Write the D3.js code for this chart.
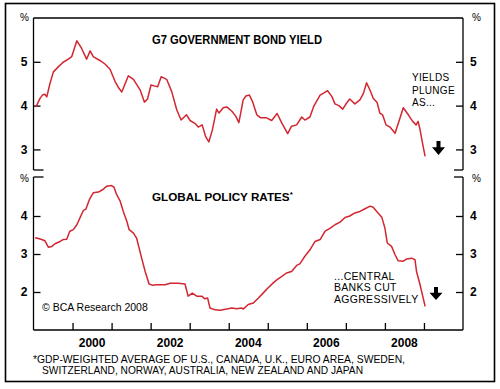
<!DOCTYPE html>
<html>
<head>
<meta charset="utf-8">
<script src="https://cdn.jsdelivr.net/npm/d3@7"></script>
<style>
  body { margin: 0; background: #fff; }
  svg { display: block; font-family: 'Liberation Sans', Arial, sans-serif; }
</style>
</head>
<body>
<svg id="chart" width="500" height="389"></svg>
<script>
/**
 * @fileoverview Draws the G7 bond yield / global policy rate panels.
 */

// Decimal years and values.
var bondYears = [
  1999.04, 1999.08, 1999.17, 1999.24, 1999.29, 1999.34, 1999.42, 1999.51,
  1999.64, 1999.76, 1999.89, 1999.98, 2000.11, 2000.23, 2000.36, 2000.45,
  2000.53, 2000.70, 2000.83, 2000.96, 2001.09, 2001.17, 2001.26, 2001.43,
  2001.56, 2001.73, 2001.84, 2001.92, 2002.01, 2002.09, 2002.18, 2002.27,
  2002.41, 2002.54, 2002.67, 2002.78, 2002.92, 2003.01, 2003.14, 2003.22,
  2003.32, 2003.41, 2003.49, 2003.58, 2003.69, 2003.75, 2003.86, 2003.95,
  2004.08, 2004.18, 2004.26, 2004.37, 2004.44, 2004.53, 2004.61, 2004.72,
  2004.82, 2004.97, 2005.10, 2005.24, 2005.36, 2005.51, 2005.61, 2005.74,
  2005.87, 2005.95, 2006.08, 2006.18, 2006.34, 2006.44, 2006.53, 2006.64,
  2006.72, 2006.82, 2006.92, 2007.02, 2007.10, 2007.23, 2007.36, 2007.45,
  2007.53, 2007.62, 2007.70, 2007.80, 2007.87, 2007.94, 2008.03, 2008.13,
  2008.26, 2008.37, 2008.47, 2008.60, 2008.71, 2008.80, 2008.85, 2008.90,
  2008.97, 2009.03
];
var bondYield = [
  3.98, 4.00, 4.17, 4.25, 4.26, 4.20, 4.50, 4.77,
  4.89, 4.99, 5.06, 5.12, 5.48, 5.31, 5.06, 5.25,
  5.12, 5.03, 4.95, 4.83, 4.55, 4.42, 4.31, 4.68,
  4.60, 4.36, 4.08, 4.15, 4.47, 4.45, 4.43, 4.66,
  4.60, 4.32, 3.90, 3.67, 3.79, 3.66, 3.59, 3.51,
  3.56, 3.29, 3.17, 3.44, 3.92, 3.83, 3.95, 3.97,
  3.87, 3.76, 3.61, 4.13, 4.22, 4.24, 4.09, 3.79,
  3.72, 3.72, 3.66, 3.82, 3.60, 3.36, 3.53, 3.56,
  3.74, 3.67, 3.74, 3.99, 4.24, 4.29, 4.34, 4.21,
  4.04, 4.00, 3.92, 4.06, 4.15, 4.04, 4.13, 4.28,
  4.52, 4.35, 4.17, 4.07, 3.83, 3.79, 3.56, 3.51,
  3.37, 3.67, 3.95, 3.79, 3.64, 3.56, 3.64, 3.45,
  3.11, 2.84
];

var policyYears = [
  1999.04, 1999.08, 1999.21, 1999.29, 1999.38, 1999.47, 1999.55, 1999.68,
  1999.76, 1999.85, 1999.93, 2000.02, 2000.11, 2000.19, 2000.28, 2000.34,
  2000.43, 2000.53, 2000.66, 2000.77, 2000.87, 2001.00, 2001.06, 2001.13,
  2001.22, 2001.30, 2001.39, 2001.45, 2001.56, 2001.64, 2001.77, 2001.86,
  2001.96, 2002.04, 2002.15, 2002.37, 2002.50, 2002.71, 2002.88, 2002.96,
  2003.07, 2003.18, 2003.31, 2003.39, 2003.46, 2003.52, 2003.65, 2003.78,
  2003.95, 2004.08, 2004.20, 2004.33, 2004.37, 2004.50, 2004.63, 2004.76,
  2004.88, 2005.01, 2005.14, 2005.23, 2005.36, 2005.48, 2005.61, 2005.74,
  2005.82, 2005.95, 2006.08, 2006.21, 2006.34, 2006.47, 2006.60, 2006.72,
  2006.85, 2006.98, 2007.10, 2007.23, 2007.36, 2007.49, 2007.62, 2007.70,
  2007.79, 2007.92, 2008.00, 2008.06, 2008.17, 2008.26, 2008.34, 2008.47,
  2008.56, 2008.68, 2008.77, 2008.81, 2008.90, 2009.03
];
var policyRate = [
  3.42, 3.42, 3.38, 3.35, 3.18, 3.20, 3.27, 3.33,
  3.38, 3.39, 3.60, 3.64, 3.77, 3.95, 4.15, 4.18,
  4.43, 4.61, 4.63, 4.69, 4.78, 4.80, 4.76, 4.56,
  4.39, 4.12, 3.86, 3.64, 3.55, 3.42, 2.89, 2.54,
  2.21, 2.18, 2.19, 2.19, 2.23, 2.23, 2.21, 1.89,
  1.97, 1.89, 1.89, 1.82, 1.84, 1.58, 1.53, 1.52,
  1.55, 1.58, 1.56, 1.58, 1.55, 1.67, 1.71, 1.84,
  1.97, 2.11, 2.24, 2.32, 2.41, 2.50, 2.54, 2.70,
  2.74, 2.94, 3.11, 3.33, 3.38, 3.60, 3.68, 3.77,
  3.84, 3.96, 4.00, 4.08, 4.12, 4.19, 4.26, 4.23,
  4.12, 3.97, 3.68, 3.29, 3.20, 2.98, 2.82, 2.81,
  2.87, 2.89, 2.85, 2.54, 2.19, 1.62
];

var bondTicks = [3, 4, 5];
var policyTicks = [2, 3, 4];
var yearTicks = [2000, 2001, 2002, 2003, 2004, 2005, 2006, 2007, 2008, 2009];
var yearLabels = [2000, 2002, 2004, 2006, 2008];

var LINE_COLOR = '#d22630';
var PLOT = {left: 33.5, right: 463};
var TOP_PANEL = {top: 18, bottom: 170};
var BOT_PANEL = {top: 177, bottom: 330};

var svg = d3.select('#chart');

var x = d3.scaleLinear().domain([1999, 2010]).range([PLOT.left, PLOT.right]);
var yBond = d3.scaleLinear().domain([2.53, 6]).
    range([TOP_PANEL.bottom, TOP_PANEL.top]);
var yPolicy = d3.scaleLinear().domain([1, 5]).
    range([BOT_PANEL.bottom, BOT_PANEL.top + 1]);

// Outer frame.
svg.append('rect').
    attr('x', 5.5).attr('y', 3.5).attr('width', 489).attr('height', 378).
    attr('fill', 'none').attr('stroke', '#000').attr('stroke-width', 1.6);

/**
 * Draws the broken frame of one panel.
 * @param {!Object} panel Top/bottom of the panel.
 * @param {boolean} isTop Whether this is the upper panel.
 */
function drawFrame(panel, isTop) {
  var g = svg.append('g').attr('fill', 'none').attr('stroke', '#000').
      attr('stroke-width', 1.3);
  g.append('line').
      attr('x1', PLOT.left).attr('x2', PLOT.left).
      attr('y1', panel.top).attr('y2', panel.bottom);
  g.append('line').
      attr('x1', PLOT.right).attr('x2', PLOT.right).
      attr('y1', panel.top).attr('y2', panel.bottom);
  if (isTop) {
    g.append('line').
        attr('x1', PLOT.left).attr('x2', PLOT.right).
        attr('y1', panel.top).attr('y2', panel.top);
  } else {
    g.append('line').
        attr('x1', PLOT.left).attr('x2', PLOT.right).
        attr('y1', panel.bottom).attr('y2', panel.bottom);
  }
  // Break marks.
  var yBreak = isTop ? panel.bottom : panel.top;
  g.append('line').
      attr('x1', PLOT.left).attr('x2', PLOT.left + 10).
      attr('y1', yBreak).attr('y2', yBreak);
  g.append('line').
      attr('x1', PLOT.right - 9).attr('x2', PLOT.right).
      attr('y1', yBreak).attr('y2', yBreak);
}

drawFrame(TOP_PANEL, true);
drawFrame(BOT_PANEL, false);

/**
 * Adds left and right value axes for a panel.
 * @param {!Function} scale The y scale.
 * @param {!Array<number>} ticks The tick values.
 */
function drawValueAxes(scale, ticks) {
  var left = svg.append('g').
      attr('transform', 'translate(' + PLOT.left + ',0)').
      call(d3.axisLeft(scale).tickValues(ticks).tickSizeInner(-7).
          tickSizeOuter(0).tickPadding(6).tickFormat(d3.format('d')));
  var right = svg.append('g').
      attr('transform', 'translate(' + PLOT.right + ',0)').
      call(d3.axisRight(scale).tickValues(ticks).tickSizeInner(-7).
          tickSizeOuter(0).tickPadding(7).tickFormat(d3.format('d')));
  [left, right].forEach(function(g) {
    g.select('.domain').remove();
    g.selectAll('line').attr('stroke', '#000').attr('stroke-width', 1.3);
    g.selectAll('text').attr('fill', '#000').
        style('font-size', '12px').style('font-weight', 'bold').
        style('font-family', "'Liberation Sans', Arial, sans-serif");
  });
}

drawValueAxes(yBond, bondTicks);
drawValueAxes(yPolicy, policyTicks);

// Year ticks along the bottom.
var xAxis = svg.append('g').
    attr('transform', 'translate(0,' + BOT_PANEL.bottom + ')').
    call(d3.axisBottom(x).tickValues(yearTicks).tickSizeInner(-7).
        tickSizeOuter(0).tickFormat(''));
xAxis.select('.domain').remove();
xAxis.selectAll('line').attr('stroke', '#000').attr('stroke-width', 1.3);

svg.append('g').selectAll('text').data(yearLabels).join('text').
    attr('x', function(d) { return x(d + 0.5); }).
    attr('y', 347).
    attr('text-anchor', 'middle').
    style('font-size', '12px').style('font-weight', 'bold').
    text(function(d) { return d; });

// Percent markers.
[[20, 21], [472, 21], [20, 182], [472, 182]].forEach(function(p) {
  svg.append('text').attr('x', p[0]).attr('y', p[1]).
      style('font-size', '10px').text('%');
});

// Series lines.
var bondLine = d3.line().
    x(function(d, i) { return x(bondYears[i]); }).
    y(function(d) { return yBond(d); });
var policyLine = d3.line().
    x(function(d, i) { return x(policyYears[i]); }).
    y(function(d) { return yPolicy(d); });

svg.append('path').datum(bondYield).
    attr('d', bondLine).attr('fill', 'none').
    attr('stroke', LINE_COLOR).attr('stroke-width', 1.5).
    attr('stroke-linejoin', 'round');
svg.append('path').datum(policyRate).
    attr('d', policyLine).attr('fill', 'none').
    attr('stroke', LINE_COLOR).attr('stroke-width', 1.5).
    attr('stroke-linejoin', 'round');

// Titles.
svg.append('text').attr('x', 152).attr('y', 44).
    attr('textLength', 170).attr('lengthAdjust', 'spacingAndGlyphs').
    style('font-size', '12.5px').style('font-weight', 'bold').
    text('G7 GOVERNMENT BOND YIELD');
var policyTitle = svg.append('text').attr('x', 152).attr('y', 201).
    style('font-size', '11.7px').style('font-weight', 'bold');
policyTitle.append('tspan').text('GLOBAL POLICY RATES');
policyTitle.append('tspan').attr('dy', -4).
    style('font-size', '8px').text('*');

/**
 * Writes a stack of annotation lines.
 * @param {number} x0 Left edge.
 * @param {number} y0 Baseline of the first line.
 * @param {!Array<string>} lines The lines.
 * @param {number} size Font size.
 * @param {number} step Line step.
 */
function drawNote(x0, y0, lines, size, step) {
  svg.append('g').selectAll('text').data(lines).join('text').
      attr('x', x0).
      attr('y', function(d, i) { return y0 + i * step; }).
      style('font-size', size + 'px').
      style('letter-spacing', '0.3px').
      text(function(d) { return d; });
}

drawNote(412, 81, ['YIELDS', 'PLUNGE', 'AS...'], 10, 12.5);
drawNote(334, 280, ['...CENTRAL', 'BANKS CUT', 'AGGRESSIVELY'], 10.5, 11.3);

/**
 * Draws a bold downward arrow.
 * @param {number} cx Centre x.
 * @param {number} top Top y.
 * @param {number} h Height.
 */
function drawArrow(cx, top, h) {
  var head = h * 0.55;
  var path = d3.path();
  path.moveTo(cx - 2, top);
  path.lineTo(cx + 2, top);
  path.lineTo(cx + 2, top + h - head);
  path.lineTo(cx + 6.5, top + h - head);
  path.lineTo(cx, top + h);
  path.lineTo(cx - 6.5, top + h - head);
  path.lineTo(cx - 2, top + h - head);
  path.closePath();
  svg.append('path').attr('d', path.toString()).attr('fill', '#000');
}

drawArrow(438.5, 141, 14);
drawArrow(436, 287, 13);

// Credit and footnote.
svg.append('text').attr('x', 42).attr('y', 311).
    style('font-size', '10.5px').text('\u00a9 BCA Research 2008');

svg.append('text').attr('x', 33).attr('y', 363).
    attr('textLength', 372).attr('lengthAdjust', 'spacingAndGlyphs').
    style('font-size', '11px').
    text('*GDP-WEIGHTED AVERAGE OF U.S., CANADA, U.K., EURO AREA, SWEDEN,');
svg.append('text').attr('x', 42).attr('y', 374).
    attr('textLength', 321).attr('lengthAdjust', 'spacingAndGlyphs').
    style('font-size', '11px').
    text('SWITZERLAND, NORWAY, AUSTRALIA, NEW ZEALAND AND JAPAN');
</script>
</body>
</html>
